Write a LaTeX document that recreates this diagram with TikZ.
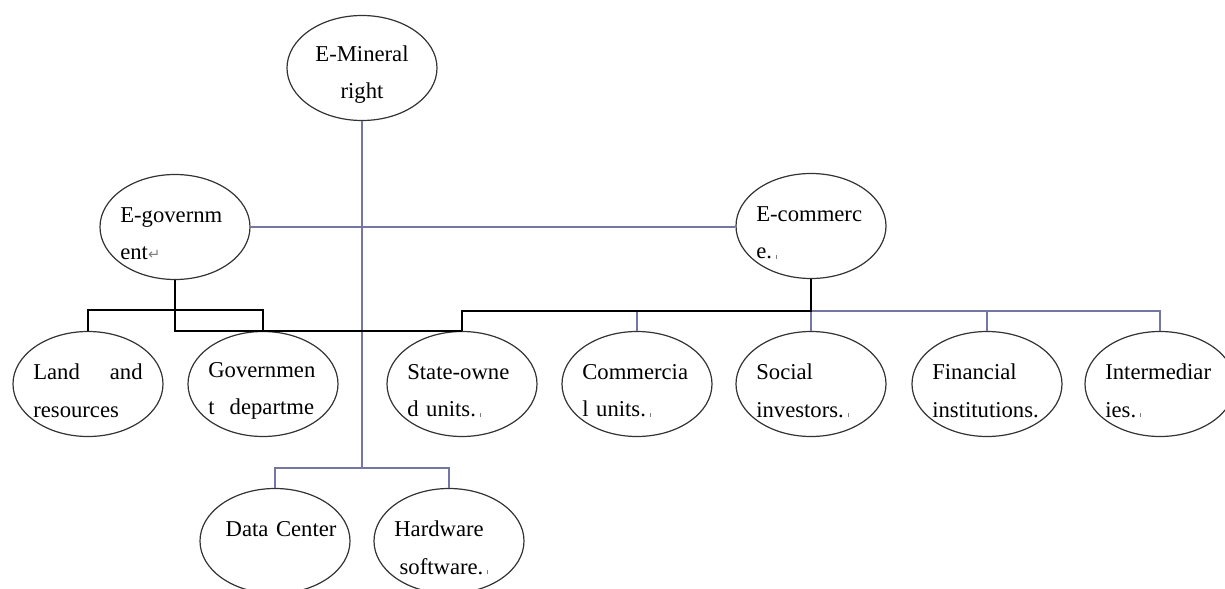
\documentclass[tikz,border=0pt]{standalone}
\usepackage{fontspec}
\setmainfont{Liberation Serif}
\newfontfamily\symfont{DejaVu Sans}
\usetikzlibrary{shapes.geometric}
\tikzset{oval/.style = {draw=black!80, line width=0.9pt, ellipse, inner sep=0, minimum width=112.5pt, minimum height=78.75pt}}
\tikzset{lbl/.style = {text width=82pt, align=left, inner sep=0, yshift=-5pt, font=\fontsize{17}{28}\selectfont}}
\tikzset{clbl/.style = {lbl, align=center}}
\tikzset{blk/.style = {black, line width=1.1pt}}
\tikzset{prp/.style = {draw={rgb,255:red,118;green,118;blue,165}, line width=1.1pt}}
\newcommand\pmk{\,{\color{gray}\rule{0.5pt}{3pt}}}
\newcommand\retmk{{\symfont\fontsize{11}{11}\selectfont\color{gray}↵}}

\begin{document}
\begin{tikzpicture}[x=0.75pt, y=-0.75pt]
\useasboundingbox (0,0) rectangle (1225,589);
\clip (0,0) rectangle (1225,589);
\node[oval, label={[clbl]center:{E-Mineral\\right}}] (min) at (362,68) {};
\node[oval, label={[lbl]center:{E-governm\\ent\retmk}}] (gov) at (175,227) {};
\node[oval, label={[lbl]center:{E-commerc\\e.\pmk}}] (com) at (811,226) {};
\node[oval, label={[lbl]center:{Land\hfill and\\resources}}] (land) at (88,384) {};
\node[oval, label={[lbl]center:{Governmen\\t\ \ departme}}] (dept) at (263,384) {};
\node[oval, label={[lbl]center:{State-owne\\d units.\pmk}}] (state) at (462,384) {};
\node[oval, label={[lbl]center:{Commercia\\l units.\pmk}}] (comm) at (637,384) {};
\node[oval, label={[lbl]center:{Social\\investors.\pmk}}] (soc) at (811,384) {};
\node[oval, label={[lbl]center:{Financial\\institutions.}}] (fin) at (987,384) {};
\node[oval, label={[lbl]center:{Intermediar\\ies.\pmk}}] (inter) at (1160,384) {};
\node[oval, label={[lbl]center:{\hspace*{4pt}\mbox{Data Center}\\\mbox{}}}] (data) at (275,541) {};
\node[oval, label={[lbl]center:{Hardware\\\hspace*{4pt}software.\pmk}}] (hw) at (449,541) {};
\coordinate (govbus) at (175,310);
\coordinate (combus) at (811,311);
\coordinate (hub) at (362,468);
\draw[prp] (gov.east) -- (gov.east -| com.west);
\draw[prp] (min.south) -- (hub);
\draw[prp] (data.north) |- (hub) -| (hw.north);
\draw[prp] (state.north |- combus) -| (inter.north);
\foreach \n in {comm,soc,fin}
  \draw[prp] (\n.north) -- (\n.north |- combus);
\draw[blk] (land.north) |- (govbus) -| (dept.north);
\draw[blk] (gov.south) -- (gov.south |- state.north) -- (state.north);
\draw[blk] (com.south) -- (combus) -| (state.north);
\end{tikzpicture}
\end{document}
